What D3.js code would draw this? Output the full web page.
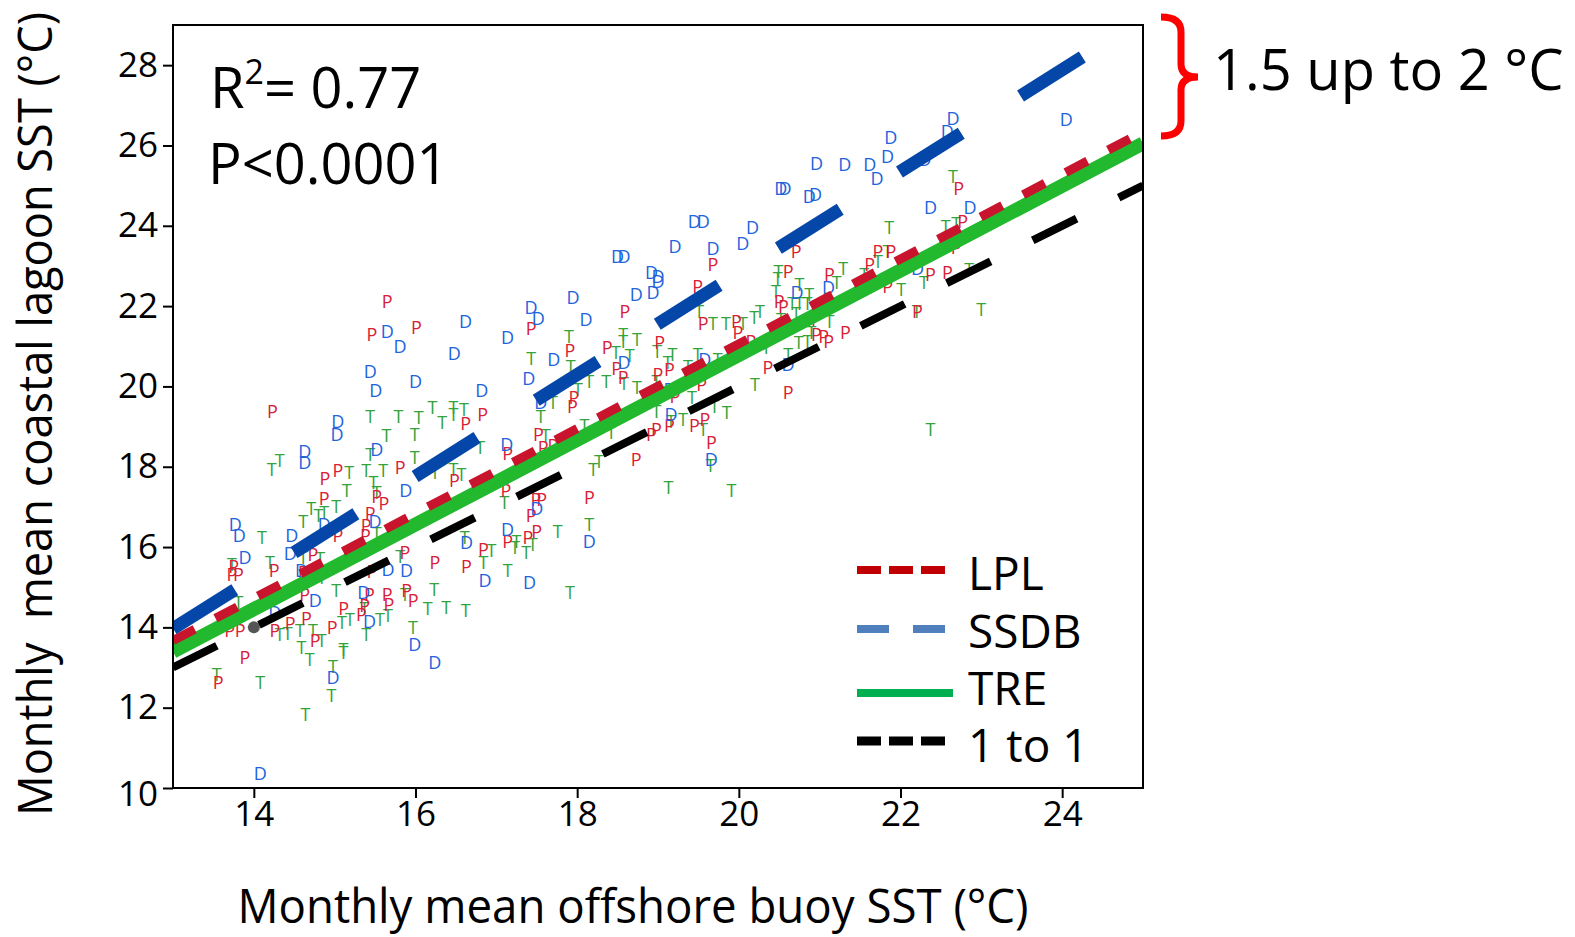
<!DOCTYPE html>
<html>
<head>
<meta charset="utf-8">
<script src="https://cdn.jsdelivr.net/npm/d3@7"></script>
<style>
body { margin: 0; background: #fff; }
svg { font-family: "Open Sans", "Noto Sans", sans-serif; }
</style>
</head>
<body>
<div id="chart"></div>
<script>
// canvas size and plot box
var width = 1575, height = 937;
var box = {left: 173, right: 1143, top: 25, bottom: 788};

// axis ranges and ticks
var xDomain = [13, 25];
var yDomain = [10, 29];
var xTicks = [14, 16, 18, 20, 22, 24];
var yTicks = [10, 12, 14, 16, 18, 20, 22, 24, 26, 28];

// fitted lines (end points)
var lplLine = [[13, 13.67], [25, 26.34]];
var ssdbLine = [[13, 13.97], [25, 29.15]];
var treLine = [[13, 13.40], [25, 26.05]];
var oneToOne = [[13, 13], [25, 25]];

// monthly points, P = LPL
var ptsP = [
[15.65,22.12],[15.46,21.31],[14.23,19.40],
[17.14,16.16],[17.39,16.25],[17.50,16.41],[16.84,15.96],[16.24,15.62],[16.63,15.52],
[18.59,21.87],[16.01,21.49],[17.43,21.45],[17.91,20.91],[18.37,20.97],[18.49,20.46],[18.57,20.23],[17.96,19.73],[17.94,19.52],[16.62,19.08],[16.83,19.32],[17.52,18.82],[17.14,18.34],[17.58,18.50],[17.70,18.55],[16.48,17.66],[17.12,17.41],[17.49,17.20],[17.56,17.20],[17.43,16.79],[18.73,18.20],[18.15,17.24],
[14.88,17.72],[15.04,17.91],[15.81,18.00],[14.87,17.23],[15.52,17.26],[15.61,17.09],[15.44,16.84],[15.39,16.54],[15.04,16.29],[15.38,16.29],[14.73,15.82],[14.25,15.42],[13.75,15.52],[13.73,15.34],[13.81,15.34],[14.61,15.38],[15.87,15.87],[15.46,15.40],[15.43,14.82],[14.63,14.84],[15.65,14.84],[15.89,14.92],[15.97,14.67],[15.67,14.57],[15.37,14.55],[15.11,14.47],[15.33,14.34],[14.65,14.24],[14.45,14.12],[14.26,13.93],[14.97,14.01],[13.70,13.93],[13.83,13.93],[14.76,13.68],
[13.89,13.26],[13.56,12.64],
[19.68,23.06],[20.71,23.38],[19.49,22.51],[20.61,22.88],[21.12,22.80],[20.50,22.13],[20.55,22.01],[19.56,21.59],[19.97,21.64],[19.99,21.35],[20.15,21.14],[20.96,21.68],[20.96,21.31],[21.05,21.26],[21.11,21.14],[20.36,20.48],[20.61,19.85],[19.02,21.10],[19.14,20.44],[19.00,20.31],[19.21,19.77],[19.54,20.06],[19.14,19.03],[19.45,19.03],[19.58,19.19],[18.92,18.82],[18.98,18.94],[19.66,18.61],
[22.72,24.94],[22.77,24.12],[22.69,23.46],[21.72,23.36],[21.88,23.36],[21.62,23.06],[22.37,22.81],[22.58,22.84],[21.84,22.51],
[21.32,21.35],[22.21,21.89]
];

// D = SSDB
var ptsD = [
[15.65,21.37],[15.81,21.01],[15.44,20.39],[15.51,19.90],[15.04,19.15],[15.03,18.82],
[17.14,16.46],[18.15,16.16],[16.86,15.17],[17.41,15.12],[16.63,16.12],
[17.95,22.22],[18.73,22.30],[17.43,21.97],[17.52,21.70],[18.11,21.68],[16.62,21.64],[17.14,21.22],[16.48,20.83],[17.71,20.68],[18.58,20.60],[16.00,20.14],[17.40,20.20],[16.82,19.90],[17.55,19.60],[17.13,18.57],[17.50,16.97],
[14.63,18.40],[14.63,18.11],[15.52,18.45],[15.88,17.43],[14.87,16.58],[15.50,16.66],[13.77,16.58],[13.82,16.31],[14.47,16.31],[14.45,15.85],[13.89,15.75],[14.59,15.42],[15.66,15.46],[15.89,15.42],[15.36,14.88],[14.76,14.67],[14.26,14.38],[15.43,14.17],[15.99,13.59],
[16.24,13.14],[14.98,12.76],[14.08,10.38],
[19.21,23.50],[20.05,23.58],[19.68,23.45],[18.50,23.25],[18.58,23.25],[18.92,22.84],[19.00,22.76],[19.00,22.63],[18.94,22.34],[21.11,22.48],[20.72,22.34],[20.61,20.56],[19.58,20.68],[19.15,19.94],[19.16,19.32],[19.66,18.20],
[22.65,26.69],[22.58,26.36],[21.88,26.20],[21.84,25.74],[22.30,25.66],[20.96,25.57],[21.31,25.53],[21.62,25.53],[21.71,25.20],[20.52,24.95],[20.57,24.95],[20.87,24.75],[20.95,24.80],[19.45,24.12],[19.56,24.12],[20.17,23.96],[22.37,24.46],[22.86,24.47],[22.21,22.96],
[24.05,26.65]
];

// T = TRE
var ptsT = [
[15.44,19.27],[15.79,19.26],
[16.61,16.25],[17.25,16.16],[17.23,16.00],[17.37,15.87],[17.45,16.08],[17.76,16.41],[18.15,16.58],[16.84,15.62],[16.94,15.92],[17.14,15.42],
[17.90,21.26],[17.43,20.72],[17.92,20.52],[18.57,21.31],[18.57,21.14],[18.74,21.18],[18.48,20.85],[18.65,20.77],[18.58,20.08],[18.36,20.14],[18.15,20.14],[18.01,19.94],[17.70,19.60],[16.21,19.48],[16.04,19.23],[16.47,19.48],[16.60,19.44],[16.33,19.11],[16.47,19.32],[17.55,19.27],[17.61,18.78],[18.09,19.05],[18.42,18.86],[16.80,18.49],[16.47,17.95],[16.57,17.82],[16.24,17.86],[17.10,17.12],[18.20,17.95],[18.27,18.15],
[15.64,18.78],[15.99,18.82],[14.22,17.95],[14.32,18.17],[15.44,18.32],[15.99,18.24],[15.18,17.86],[15.39,17.91],[15.60,17.91],[15.48,17.61],[15.15,17.41],[15.52,17.37],[14.71,16.98],[14.80,16.81],[14.87,16.87],[15.02,17.01],[14.61,16.66],[15.52,16.35],[14.10,16.26],[14.61,15.75],[14.82,15.73],[14.20,15.62],[13.73,15.57],[14.84,15.25],[15.81,15.77],[15.02,14.92],[15.87,14.82],[15.37,14.47],[13.81,14.63],[15.19,14.21],[15.56,14.21],[15.66,14.30],[14.32,13.84],[14.42,13.87],[15.09,14.13],[14.73,13.93],[14.57,13.93],[15.39,13.84],[15.97,14.01],[14.84,13.68],[14.59,13.51],[15.11,13.47],[16.15,14.47],
[16.23,14.96],[16.38,14.51],[16.62,14.44],[14.69,13.20],[15.11,13.38],[14.98,13.05],[14.96,12.31],[14.08,12.64],[14.64,11.84],
[13.54,12.85],[17.91,14.88],
[20.49,22.88],[20.48,22.71],[20.46,22.38],[20.75,22.55],[21.21,22.59],[20.87,22.30],[20.66,22.08],[20.75,22.08],[20.85,22.08],[20.71,21.84],[19.51,21.89],[19.68,21.57],[19.84,21.59],[20.05,21.59],[20.19,21.72],[20.26,21.87],[20.34,20.97],[20.52,21.68],[21.12,21.64],[20.90,21.35],[20.74,21.10],[20.85,21.14],[20.61,20.81],[20.20,20.06],[18.99,20.89],[19.18,20.81],[19.49,20.81],[19.74,20.68],[19.12,20.62],[19.37,20.52],[18.98,20.14],[18.74,19.99],[19.42,19.73],[18.98,19.40],[19.16,19.15],[19.31,19.19],[19.56,18.94],[19.70,19.52],[19.85,19.36],[19.65,18.05],
[22.65,25.24],[21.86,23.96],[22.56,24.00],[22.69,24.08],[21.84,23.36],[21.72,23.13],[21.29,22.96],[21.55,22.80],[22.85,22.92],[22.29,22.59],[22.01,22.43],
[22.20,21.89],[23.00,21.93],[22.37,18.94],[19.13,17.49],[19.91,17.41]
];

// the lone grey marker on the 1:1 line
var greyDot = [[14, 14]];

var legendNames = ["LPL", "SSDB", "TRE", "1 to 1"];

var svg = d3.select('#chart').append('svg')
    .attr('width', width)
    .attr('height', height);

var x = d3.scaleLinear().domain(xDomain).range([box.left, box.right]);
var y = d3.scaleLinear().domain(yDomain).range([box.bottom, box.top]);

svg.append('clipPath').attr('id', 'plotClip')
    .append('rect')
    .attr('x', box.left).attr('y', box.top)
    .attr('width', box.right - box.left).attr('height', box.bottom - box.top);

// axes
var yAxis = d3.axisLeft(y).tickValues(yTicks).tickSize(10).tickPadding(5);
var xAxis = d3.axisBottom(x).tickValues(xTicks).tickSize(10).tickPadding(3);

var gy = svg.append('g').attr('transform', 'translate(' + box.left + ',0)').call(yAxis);
var gx = svg.append('g').attr('transform', 'translate(0,' + box.bottom + ')').call(xAxis);
[gx, gy].forEach(function(g) {
    g.select('.domain').remove();
    g.selectAll('line').attr('stroke', '#000').attr('stroke-width', 2);
    g.selectAll('text').attr('fill', '#000').style('font-size', '35px')
        .style('font-family', '"Open Sans", sans-serif');
});
// the bottom label sits a little low in the original
gy.selectAll('.tick').filter(function(d) { return d === 10; })
    .select('text').attr('y', 6);

// letters for each site
function drawLetters(data, letter, colour) {
    svg.append('g').selectAll('text')
        .data(data).enter()
        .append('text')
        .attr('x', function(d) { return x(d[0]); })
        .attr('y', function(d) { return y(d[1]); })
        .attr('text-anchor', 'middle')
        .attr('dominant-baseline', 'central')
        .style('font-size', '18px')
        .attr('fill', colour)
        .text(letter);
}
drawLetters(ptsT, 'T', '#34a33a');
drawLetters(ptsP, 'P', '#d82034');
drawLetters(ptsD, 'D', '#2163dc');

svg.append('g').selectAll('circle')
    .data(greyDot).enter()
    .append('circle')
    .attr('cx', function(d) { return x(d[0]); })
    .attr('cy', function(d) { return y(d[1]); })
    .attr('r', 6)
    .attr('fill', '#555');

// fitted lines
var line = d3.line()
    .x(function(d) { return x(d[0]); })
    .y(function(d) { return y(d[1]); });

var lines = svg.append('g').attr('clip-path', 'url(#plotClip)');
lines.append('path').datum(oneToOne).attr('d', line)
    .attr('fill', 'none').attr('stroke', '#000').attr('stroke-width', 8)
    .attr('stroke-dasharray', '49 47');
lines.append('path').datum(treLine).attr('d', line)
    .attr('fill', 'none').attr('stroke', '#22b92e').attr('stroke-width', 14);
lines.append('path').datum(lplLine).attr('d', line)
    .attr('fill', 'none').attr('stroke', '#c8142c').attr('stroke-width', 9)
    .attr('stroke-dasharray', '24.5 23.5');
lines.append('path').datum(ssdbLine).attr('d', line)
    .attr('fill', 'none').attr('stroke', '#0547a8').attr('stroke-width', 13)
    .attr('stroke-dasharray', '73 70');

// frame
svg.append('rect')
    .attr('x', box.left).attr('y', box.top)
    .attr('width', box.right - box.left).attr('height', box.bottom - box.top)
    .attr('fill', 'none').attr('stroke', '#000').attr('stroke-width', 2);

// stats
var stats = svg.append('text').attr('x', 210).attr('y', 108).style('font-size', '56px');
stats.append('tspan').text('R');
stats.append('tspan').attr('dy', -24).style('font-size', '34px').text('2');
stats.append('tspan').attr('dy', 24).text('= 0.77');
svg.append('text').attr('x', 208).attr('y', 184).style('font-size', '56px').text('P<0.0001');

// legend
var legendY = [570, 629, 693, 741];
var legendStyle = [
    {colour: '#c00000', dash: '24 8', len: 89, w: 8},
    {colour: '#4f7fbd', dash: '32 24', len: 89, w: 8},
    {colour: '#00b050', dash: null, len: 96, w: 8},
    {colour: '#000', dash: '24 8', len: 89, w: 9}
];
legendNames.forEach(function(name, i) {
    var s = legendStyle[i];
    svg.append('line')
        .attr('x1', 857).attr('x2', 857 + s.len)
        .attr('y1', legendY[i]).attr('y2', legendY[i])
        .attr('stroke', s.colour).attr('stroke-width', s.w)
        .attr('stroke-dasharray', s.dash);
    svg.append('text')
        .attr('x', 968).attr('y', [590, 648, 705, 762][i])
        .style('font-size', '46px')
        .text(name);
});

// axis titles
svg.append('text')
    .attr('x', 633).attr('y', 923)
    .attr('text-anchor', 'middle')
    .attr('textLength', 791).attr('lengthAdjust', 'spacingAndGlyphs')
    .style('font-size', '48px')
    .text('Monthly mean offshore buoy SST (°C)');
svg.append('text')
    .attr('transform', 'translate(52,414) rotate(-90)')
    .attr('text-anchor', 'middle')
    .attr('textLength', 804).attr('lengthAdjust', 'spacingAndGlyphs')
    .style('font-size', '48px')
    .style('white-space', 'pre')
    .text('Monthly  mean coastal lagoon SST (°C)');

// red brace and its note
svg.append('path')
    .attr('d', 'M1161,17 Q1181,17 1181,32 L1181,64 Q1181,77 1198,77 Q1181,77 1181,90 L1181,121 Q1181,136 1161,136')
    .attr('fill', 'none').attr('stroke', '#ff0000').attr('stroke-width', 7);
svg.append('text')
    .attr('x', 1213).attr('y', 90)
    .style('font-size', '56px')
    .text('1.5 up to 2 °C');
</script>
</body>
</html>
